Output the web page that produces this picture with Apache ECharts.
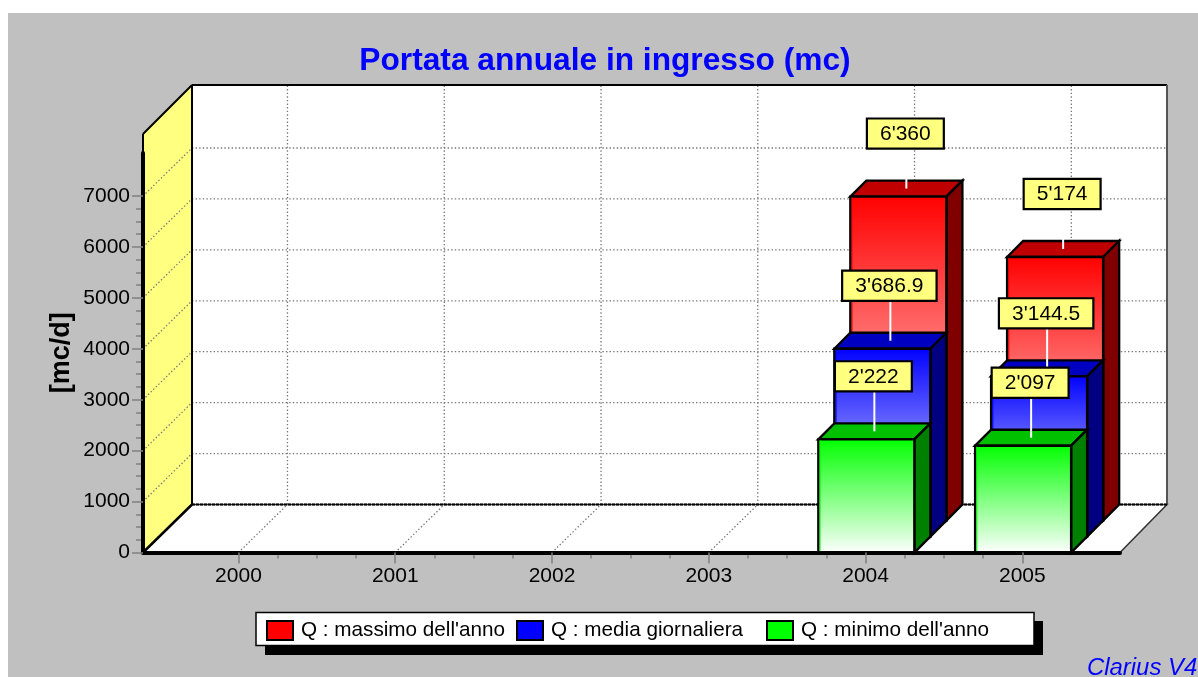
<!DOCTYPE html>
<html>
<head>
<meta charset="utf-8">
<style>html,body{margin:0;padding:0;background:#fff}#c{width:1198px;height:677px}</style>
<script src="https://cdn.jsdelivr.net/npm/echarts@6/dist/echarts.min.js"></script>
</head>
<body>
<div id="c"></div>
<script>
const years = [2000, 2001, 2002, 2003, 2004, 2005];
const massimo = [null, null, null, null, 6360, 5174];
const media = [null, null, null, null, 3686.9, 3144.5];
const minimo = [null, null, null, null, 2222, 2097];
const yTicks = [0, 1000, 2000, 3000, 4000, 5000, 6000, 7000];
const yMinorTicks = [250,500,750,1250,1500,1750,2250,2500,2750,3250,3500,3750,4250,4500,4750,5250,5500,5750,6250,6500,6750];
const xMinorTicks = [2000.25,2000.5,2000.75,2001.25,2001.5,2001.75,2002.25,2002.5,2002.75,2003.25,2003.5,2003.75,2004.25,2004.5,2004.75];
const seriesNames = ["Q : massimo dell'anno", "Q : media giornaliera", "Q : minimo dell'anno"];
const seriesColors = ['#ff0000', '#0000ff', '#00ff00'];

const FONT = '"Liberation Sans", Arial, sans-serif';
const X_MIN = 1999.391, X_MAX = 2005.623, Y_MAX = 7844;
const WALL_DX = 49, WALL_DY = 48, WALL_TOP_EXTRA = 19;
const SLOT = 16, BAR_W = 96, BAR_SHIFT = 0.8;
const LEADER = 41;
const GRID_DOT = {stroke:'#777777', lineWidth:1.3, lineDash:[1.4,2.2]};

function fmt(v){
  const p = String(v).split('.');
  p[0] = p[0].replace(/\B(?=(\d{3})+$)/g, "'");
  return p.join('.');
}
function line(a,b,style){
  return {type:'line', shape:{x1:a[0],y1:a[1],x2:b[0],y2:b[1]}, style};
}
function poly(points,style){
  return {type:'polygon', shape:{points}, style};
}

function renderScene(params, api){
  const o = api.coord([X_MIN,0]), e = api.coord([X_MAX,0]), t = api.coord([X_MIN,Y_MAX]);
  const L = o[0], R = e[0], B = o[1], TF = t[1]-WALL_TOP_EXTRA;
  const c = [];
  const BK = {stroke:'#000', lineWidth:2};
  c.push(poly([[L,B],[L+WALL_DX,B-WALL_DY],[R+WALL_DX-2,B-WALL_DY],[R,B]],{fill:'#fff',stroke:'#333',lineWidth:1.5}));
  c.push({type:'rect',shape:{x:L+WALL_DX,y:TF-WALL_DY-1,width:R-L-2,height:B-TF},style:{fill:'#fff',stroke:null}});
  c.push(poly([[L,TF],[L+WALL_DX,TF-WALL_DY-1],[L+WALL_DX,B-WALL_DY],[L,B]],{fill:'#ffff80',stroke:null}));
  yTicks.slice(1).forEach(v=>{
    const p = api.coord([X_MIN,v]);
    c.push(line(p,[p[0]+WALL_DX,p[1]-WALL_DY],GRID_DOT));
    c.push(line([p[0]+WALL_DX,p[1]-WALL_DY],[R+WALL_DX-2,p[1]-WALL_DY],GRID_DOT));
  });
  years.forEach(y=>{
    const p = api.coord([y,0]);
    c.push(line(p,[p[0]+WALL_DX,p[1]-WALL_DY],GRID_DOT));
    c.push(line([p[0]+WALL_DX,p[1]-WALL_DY],[p[0]+WALL_DX,TF-WALL_DY-1],GRID_DOT));
  });
  c.push(line([L,TF],[L+WALL_DX,TF-WALL_DY-1],BK));
  c.push(line([L,TF],[L,t[1]],BK));
  c.push(line([L+WALL_DX,TF-WALL_DY-1],[R+WALL_DX-2,TF-WALL_DY-1],BK));
  c.push(line([L+WALL_DX,TF-WALL_DY-1],[L+WALL_DX,B-WALL_DY],BK));
  c.push(line([L,B],[L+WALL_DX,B-WALL_DY],{stroke:'#000',lineWidth:2.5}));
  c.push(line([R+WALL_DX-2,TF-WALL_DY-1],[R+WALL_DX-2,B-WALL_DY],{stroke:'#555',lineWidth:2}));
  c.push(line([L+WALL_DX,B-WALL_DY],[R+WALL_DX-2,B-WALL_DY],{stroke:'#000',lineWidth:2,lineDash:[3,1]}));
  return {type:'group',children:c};
}

function barRenderer(slot, base, dark, side){
  return function(params, api){
    const v = api.value(1);
    if (v == null || isNaN(v)) return;
    const off = slot*SLOT;
    const top = api.coord([api.value(0),v]), bot = api.coord([api.value(0),0]);
    const l = top[0]-BAR_W/2+off+BAR_SHIFT, r = l+BAR_W, T = top[1]-off, B = bot[1]-off;
    const st = {stroke:'#000',lineWidth:2.4,lineJoin:'miter'};
    return {type:'group',children:[
      poly([[l,T],[l+SLOT,T-SLOT],[r+SLOT,T-SLOT],[r,T]],Object.assign({fill:dark},st)),
      poly([[r,T],[r+SLOT,T-SLOT],[r+SLOT,B-SLOT],[r,B]],Object.assign({fill:side},st)),
      {type:'rect',shape:{x:l,y:T,width:r-l,height:B-T},style:Object.assign({
        fill:new echarts.graphic.LinearGradient(0,0,0,1,[{offset:0,color:base},{offset:1,color:'#ffffff'}])},st)},
      line([l+1.7,T+1],[l+1.7,B-1],{stroke:base,lineWidth:1})
    ]};
  };
}

function labelRenderer(params, api){
  const v = api.value(1);
  if (v == null || isNaN(v)) return;
  const slot = api.value(2), off = slot*SLOT;
  const top = api.coord([api.value(0),v]);
  const px = top[0]+off+SLOT/2+BAR_SHIFT, py = top[1]-off-SLOT/2;
  const by = py-LEADER;
  return {type:'group',children:[
    line([px,py],[px,by],{stroke:'#fff',lineWidth:2}),
    {type:'text',style:{x:px-1,y:by,text:fmt(v),fill:'#000',font:'21px '+FONT,
      align:'center',verticalAlign:'bottom',backgroundColor:'#ffff80',borderColor:'#000',borderWidth:2.2,
      padding:[4,12,3,12]}}
  ]};
}

const pairs = arr => years.map((y,i)=>[y,arr[i]]);
const labelData = [].concat(
  years.map((y,i)=>[y,massimo[i],2]),
  years.map((y,i)=>[y,media[i],1]),
  years.map((y,i)=>[y,minimo[i],0])
);
const legendLefts = [266, 516, 766];

const chart = echarts.init(document.getElementById('c'),null,{renderer:'canvas'});
chart.setOption({
  animation:false,
  backgroundColor:'#fff',
  graphic:{elements:[
    {type:'rect',z:-100,silent:true,shape:{x:8,y:13,width:1190,height:664},style:{fill:'#c0c0c0'}},
    {type:'rect',z:-90,silent:true,shape:{x:265,y:621,width:778,height:34},style:{fill:'#000'}},
    {type:'rect',z:-80,silent:true,shape:{x:256,y:612.5,width:778,height:33},style:{fill:'#fff',stroke:'#000',lineWidth:1.5}}
  ]},
  title:[
    {text:'Portata annuale in ingresso (mc)',left:605,top:45,textAlign:'center',padding:0,
     textStyle:{fontFamily:FONT,fontWeight:'bold',fontSize:31.7,color:'#0000ff'}},
    {text:'Clarius V4',left:1087,top:656,padding:0,
     textStyle:{fontFamily:FONT,fontWeight:'normal',fontStyle:'italic',fontSize:23.9,color:'#0000ff'}}
  ],
  legend:seriesNames.map((n,i)=>({
    left:legendLefts[i],top:620,padding:0,orient:'horizontal',selectedMode:false,
    data:[n],icon:'rect',itemWidth:26,itemHeight:19,
    itemStyle:{borderColor:'#000',borderWidth:2},
    textStyle:{fontFamily:FONT,fontSize:20.7,color:'#000',padding:[0,0,0,3]}
  })),
  grid:{left:143,top:153,width:977,height:399.5,show:false},
  xAxis:[
    {type:'value',min:X_MIN,max:X_MAX,z:5,splitLine:{show:false},
     axisLine:{show:true,onZero:false,lineStyle:{color:'#000',width:4}},
     axisTick:{show:true,customValues:years,length:11,lineStyle:{color:'#808080',width:1.5}},
     axisLabel:{customValues:years,margin:13,formatter:v=>String(v),fontFamily:FONT,fontSize:21,color:'#000'}},
    {type:'value',min:X_MIN,max:X_MAX,position:'bottom',z:4,splitLine:{show:false},
     axisLine:{show:false,onZero:false},
     axisTick:{show:true,customValues:xMinorTicks,length:6,lineStyle:{color:'#808080',width:1.5}},
     axisLabel:{show:false}}
  ],
  yAxis:[
    {type:'value',min:0,max:Y_MAX,z:5,splitLine:{show:false},
     name:'[mc/d]',nameLocation:'middle',nameGap:68,nameRotate:90,nameMoveOverlap:false,
     nameTextStyle:{fontFamily:FONT,fontWeight:'bold',fontSize:27,color:'#000'},
     axisLine:{show:true,onZero:false,lineStyle:{color:'#000',width:4}},
     axisTick:{show:true,customValues:yTicks,length:11,lineStyle:{color:'#808080',width:1.5}},
     axisLabel:{customValues:yTicks,margin:13,formatter:v=>String(v),fontFamily:FONT,fontSize:21,color:'#000'}},
    {type:'value',min:0,max:Y_MAX,position:'left',z:4,splitLine:{show:false},
     axisLine:{show:false,onZero:false},
     axisTick:{show:true,customValues:yMinorTicks,length:7,lineStyle:{color:'#808080',width:1.5}},
     axisLabel:{show:false}}
  ],
  series:[
    {type:'custom',name:'scene',z:1,silent:true,data:[[X_MIN,0]],renderItem:renderScene},
    {type:'custom',name:seriesNames[0],z:2,silent:true,itemStyle:{color:seriesColors[0]},encode:{x:0,y:1},data:pairs(massimo),renderItem:barRenderer(2,seriesColors[0],'#c00000','#800000')},
    {type:'custom',name:seriesNames[1],z:2,silent:true,itemStyle:{color:seriesColors[1]},encode:{x:0,y:1},data:pairs(media),renderItem:barRenderer(1,seriesColors[1],'#0000c0','#000080')},
    {type:'custom',name:seriesNames[2],z:2,silent:true,itemStyle:{color:seriesColors[2]},encode:{x:0,y:1},data:pairs(minimo),renderItem:barRenderer(0,seriesColors[2],'#00c000','#008000')},
    {type:'custom',name:'labels',z:3,silent:true,encode:{x:0,y:1},data:labelData,renderItem:labelRenderer}
  ]
});
</script>
</body>
</html>
